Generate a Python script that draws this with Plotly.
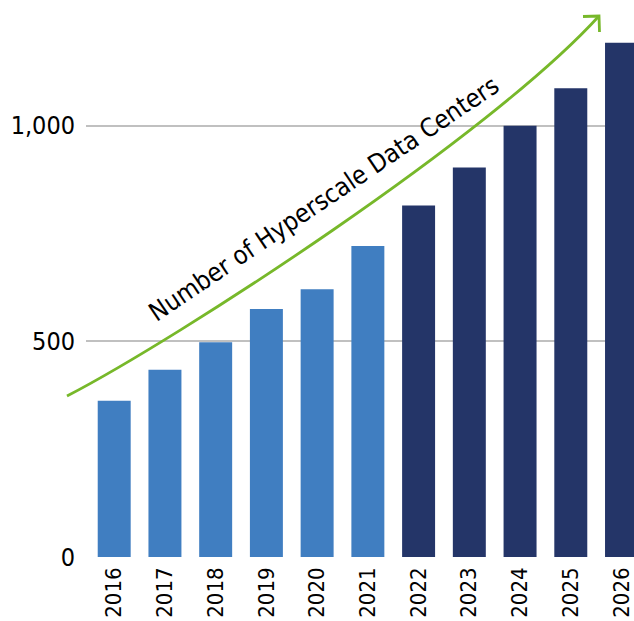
import plotly.graph_objects as go

# Hyperscale data center counts (2022 onward are projections)
years = ["2016", "2017", "2018", "2019", "2020", "2021",
         "2022", "2023", "2024", "2025", "2026"]
counts = [362, 434, 498, 575, 621, 721, 815, 903, 1000, 1087, 1192]
first_projected_year = "2022"

y_ticks = [0, 500, 1000]
y_tick_text = ["0", "500", "1,000"]

ACTUAL_COLOR = "#407EC1"
PROJECTED_COLOR = "#243568"
ARROW_COLOR = "#77B82A"
FONT = "DejaVu Sans Condensed, DejaVu Sans, sans-serif"

split = years.index(first_projected_year)
bar_colors = [ACTUAL_COLOR if i < split else PROJECTED_COLOR for i in range(len(years))]

fig = go.Figure(
    go.Bar(
        x=years,
        y=counts,
        marker=dict(color=bar_colors, line=dict(width=0)),
        hoverinfo="x+y",
    )
)

W, H = 634, 621
L, R, T, B = 86, 0, 0, 64
PW, PH = W - L - R, H - T - B


def px(x, y):
    """Convert pixel position on the page into paper coordinates."""
    return (x - L) / PW, 1 - (y - T) / PH


# growth arrow: cubic curve plus open chevron head
p0, p1, p2, p3 = px(67, 396), px(177, 339), px(489, 137), px(599, 16)
curve = "M {} {} C {} {}, {} {}, {} {}".format(*p0, *p1, *p2, *p3)
h1, h2 = px(583, 16.5), px(599.5, 32)
head = "M {} {} L {} {} L {} {}".format(*h1, *p3, *h2)

shapes = [
    dict(type="path", path=curve, xref="paper", yref="paper",
         line=dict(color=ARROW_COLOR, width=2.8), layer="above"),
    dict(type="path", path=head, xref="paper", yref="paper",
         line=dict(color=ARROW_COLOR, width=2.8), layer="above"),
]

lx, ly = px(323, 199)
annotations = [
    dict(text="Number of Hyperscale Data Centers", x=lx, y=ly,
         xref="paper", yref="paper", showarrow=False, textangle=-34,
         font=dict(family=FONT, size=25.5, color="#000000"),
         xanchor="center", yanchor="middle"),
]

fig.update_layout(
    width=W, height=H,
    margin=dict(l=L, r=R, t=T, b=B, pad=0, autoexpand=False),
    paper_bgcolor="white", plot_bgcolor="white",
    bargap=0.35,
    showlegend=False,
    shapes=shapes,
    annotations=annotations,
    font=dict(family=FONT, color="#000000"),
    xaxis=dict(
        type="category",
        range=[-0.556, 10.246],
        automargin=False,
        showgrid=False, zeroline=False, showline=False,
        ticks="", tickangle=-90,
        tickfont=dict(family=FONT, size=22, color="#000000"),
        ticklabelstandoff=5,
    ),
    yaxis=dict(
        range=[0, 1291.4],
        automargin=False,
        tickvals=y_ticks, ticktext=y_tick_text,
        showgrid=True, gridcolor="#C0C0C0", gridwidth=1.5,
        zeroline=True, zerolinecolor="rgba(0,0,0,0)",
        showline=False, ticks="",
        tickfont=dict(family=FONT, size=25, color="#000000"),
        ticklabelstandoff=10,
    ),
)

fig.write_html("out.html")
